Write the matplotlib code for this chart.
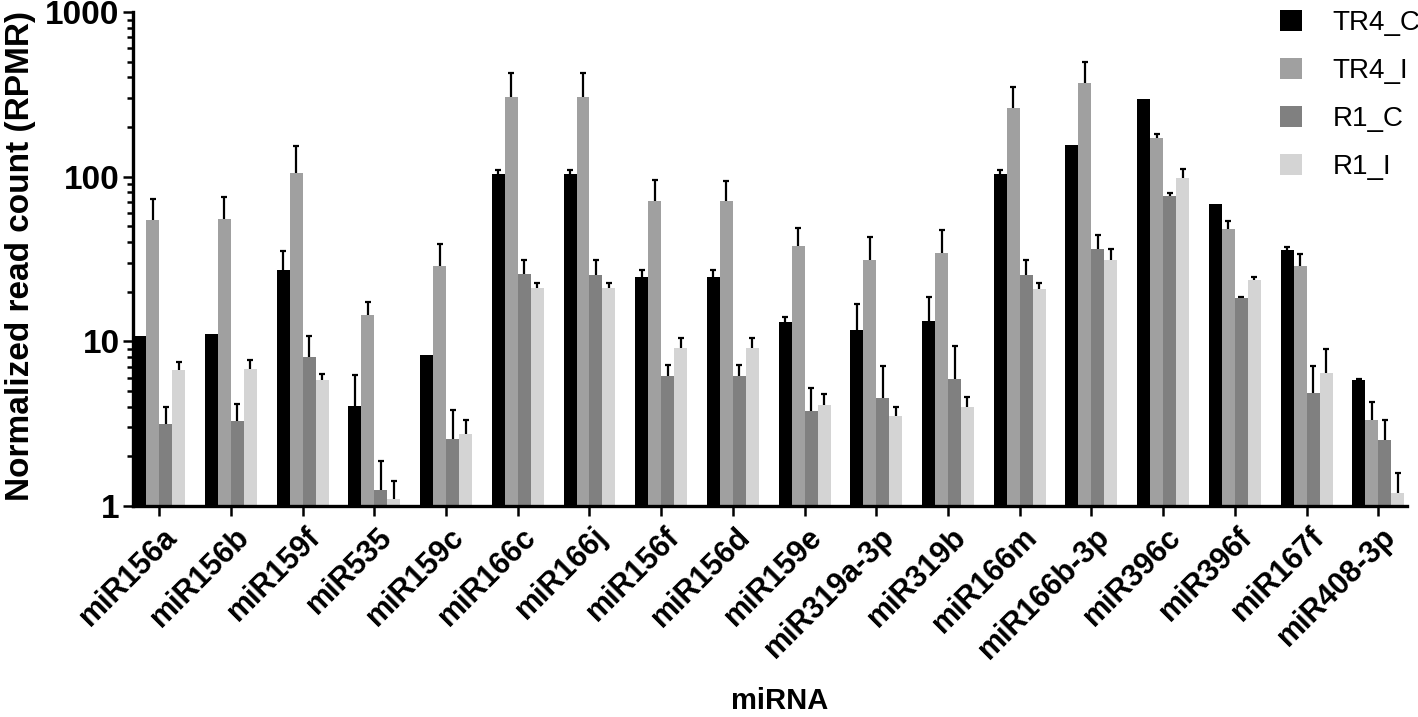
"""
miRNA normalized read counts, log scale grouped bars
"""
import numpy as np
import matplotlib
matplotlib.use('Agg')
import matplotlib.pyplot as plt
from matplotlib.ticker import FixedLocator, NullFormatter, LogLocator
import matplotlib.transforms as mtransforms

plt.rcParams['font.family'] = ['Liberation Sans', 'DejaVu Sans']

mirnas = ['miR156a', 'miR156b', 'miR159f', 'miR535', 'miR159c', 'miR166c',
          'miR166j', 'miR156f', 'miR156d', 'miR159e', 'miR319a-3p', 'miR319b',
          'miR166m', 'miR166b-3p', 'miR396c', 'miR396f', 'miR167f', 'miR408-3p']

series_names = ['TR4_C', 'TR4_I', 'R1_C', 'R1_I']
series_colors = ['#000000', '#a0a0a0', '#808080', '#d4d4d4']

tr4_c = [10.7, 11.0, 27.1, 4.05, 8.26, 104, 104, 24.5, 24.5, 13.0, 11.7, 13.3,
         104, 156, 297, 68.2, 35.8, 5.77]
tr4_c_err = [0, 0, 8.4, 2.17, 0, 5, 5, 2.6, 2.6, 1.1, 5.1, 5.2,
             5, 0, 0, 0, 1.4, 0.08]

tr4_i = [54.5, 55.3, 105.6, 14.4, 28.6, 305, 305, 70.8, 70.8, 38.1, 31.3, 34.5,
         262, 372, 171, 48.1, 28.5, 3.30]
tr4_i_err = [19, 20.2, 48.4, 2.8, 10.4, 119, 119, 24.2, 23.2, 10.9, 11.5, 12.9,
             86, 127, 11, 5.9, 5.4, 0.98]

r1_c = [3.15, 3.27, 8.0, 1.25, 2.55, 25.5, 25.3, 6.16, 6.16, 3.74, 4.51, 5.88,
        25.2, 36.5, 76.2, 18.4, 4.83, 2.52]
r1_c_err = [0.82, 0.89, 2.8, 0.63, 1.28, 5.7, 5.9, 0.99, 0.99, 1.42, 2.6, 3.52,
            5.7, 7.9, 3.7, 0.2, 2.25, 0.79]

r1_i = [6.63, 6.79, 5.82, 1.10, 2.71, 21.0, 21.0, 9.06, 9.06, 4.09, 3.51, 3.99,
        20.7, 31.3, 98.5, 23.5, 6.39, 1.19]
r1_i_err = [0.86, 0.91, 0.45, 0.31, 0.59, 1.7, 1.7, 1.44, 1.44, 0.68, 0.48, 0.56,
            2.0, 5.0, 12.5, 1.0, 2.51, 0.40]

values = [tr4_c, tr4_i, r1_c, r1_i]
errors = [tr4_c_err, tr4_i_err, r1_c_err, r1_i_err]

##############################################
# figure
##############################################
fig = plt.figure(figsize=(14.18, 7.17), dpi=100)
ax = fig.add_axes([0.0936, 0.2947, 0.9922 - 0.0936, 0.9833 - 0.2947])
ax.set_yscale('log')

x = np.arange(len(mirnas))
w = 0.181
for i, (vals, errs) in enumerate(zip(values, errors)):
    pos = x + (i - 1.5) * w
    vals = np.array(vals, dtype=float)
    errs = np.array(errs, dtype=float)
    # bars start at 1 (bottom of the log axis)
    ax.bar(pos, vals - 1, width=w, bottom=1, color=series_colors[i],
           label=series_names[i], zorder=2)
    m = errs > 0
    # lower whisker sits behind the bar -> only the upper one shows
    ax.errorbar(pos[m], vals[m], yerr=[(vals[m] - 1) * 0.3, errs[m]],
                fmt='none', ecolor='black', elinewidth=1.6, capsize=2.2,
                capthick=1.6, zorder=1)

ax.set_xlim(-0.37, 17.40)
ax.set_ylim(1, 1000)

for side in ['top', 'right']:
    ax.spines[side].set_visible(False)
for side in ['left', 'bottom']:
    ax.spines[side].set_linewidth(2.4)

ax.yaxis.set_major_locator(FixedLocator([1, 10, 100, 1000]))
ax.set_yticklabels(['1', '10', '100', '1000'], fontsize=24, fontweight='bold')
ax.yaxis.set_minor_locator(LogLocator(base=10, subs=np.arange(2, 10)))
ax.yaxis.set_minor_formatter(NullFormatter())
ax.tick_params(axis='y', which='major', length=7.5, width=1.8, pad=2)
ax.tick_params(axis='y', which='minor', length=4, width=1.8)

ax.set_xticks(x)
ax.set_xticklabels(mirnas, fontsize=22, fontweight='bold', rotation=45,
                   ha='right', va='top', rotation_mode='anchor')
ax.tick_params(axis='x', which='major', length=7.5, width=1.8, pad=4)
offset = mtransforms.ScaledTranslation(3 / 100., 0, fig.dpi_scale_trans)
for lab in ax.get_xticklabels():
    lab.set_transform(lab.get_transform() + offset)

ax.set_ylabel('Normalized read count (RPMR)', fontsize=24, fontweight='bold')
ax.yaxis.set_label_coords(-0.076, 0.505)
ax.set_xlabel('miRNA', fontsize=21, fontweight='bold')
ax.xaxis.set_label_coords(0.508, -0.368)

lg = fig.legend(loc='upper left', bbox_to_anchor=(1280 / 1418., 1 - 10 / 717.),
                fontsize=20, frameon=False, handlelength=0.8, handleheight=0.8,
                handletextpad=1.1, labelspacing=0.78, borderpad=0,
                borderaxespad=0)

fig.savefig('out.png', dpi=100)
